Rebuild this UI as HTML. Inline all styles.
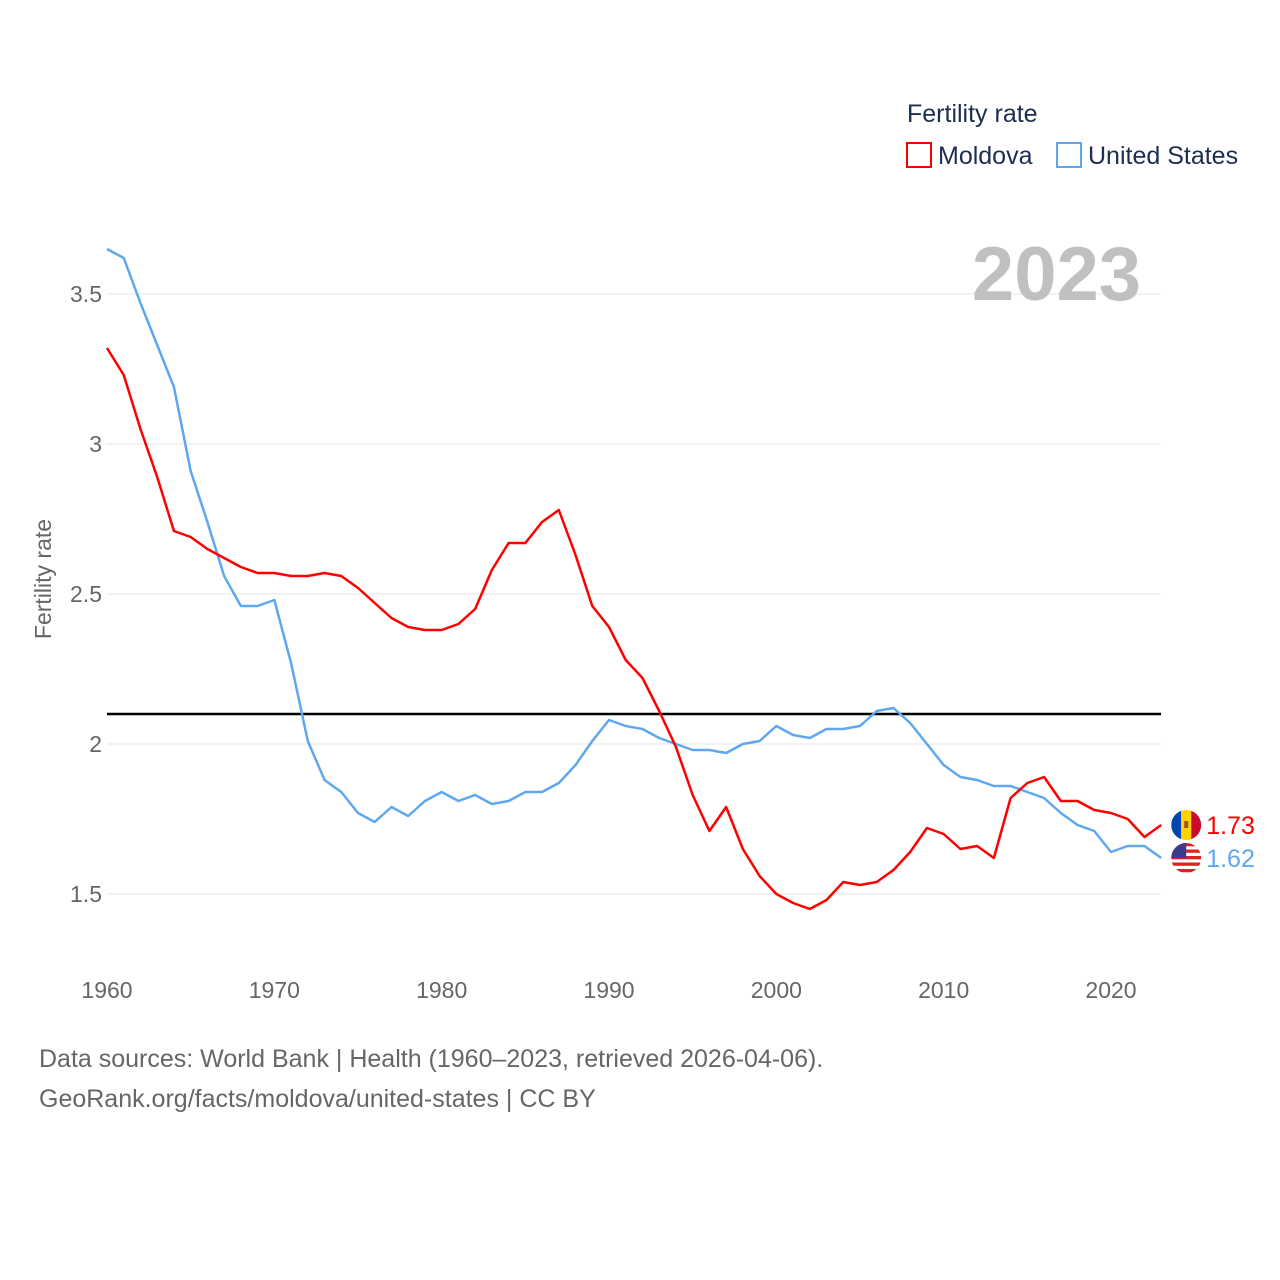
<!DOCTYPE html>
<html><head><meta charset="utf-8">
<style>
body{margin:0;background:#fff;font-family:"Liberation Sans",sans-serif;}
#wrap{position:relative;width:1280px;height:1280px;}
.lg{position:absolute;font-size:25px;color:#1d2d4f;}
.src{position:absolute;left:39px;font-size:25px;color:#666;}
</style></head>
<body>
<div id="wrap">
<div class="lg" style="left:907px;top:100px">Fertility rate</div>
<div class="lg" style="left:906px;top:142px"><span style="display:inline-block;width:22px;height:22px;border:2px solid #f00;vertical-align:-4px;margin-right:6px"></span>Moldova</div>
<div class="lg" style="left:1056px;top:142px"><span style="display:inline-block;width:22px;height:22px;border:2px solid #5ea8f0;vertical-align:-4px;margin-right:6px"></span>United States</div>
<svg id="chart" width="1280" height="1280" style="position:absolute;left:0;top:0"></svg>
<div class="src" style="top:1045px">Data sources: World Bank | Health (1960–2023, retrieved 2026-04-06).</div>
<div class="src" style="top:1085px">GeoRank.org/facts/moldova/united-states | CC BY</div>
</div>
<script>
const years=[];for(let y=1960;y<=2023;y++)years.push(y);
const moldova=[3.32,3.23,3.05,2.89,2.71,2.69,2.65,2.62,2.59,2.57,2.57,2.56,2.56,2.57,2.56,2.52,2.47,2.42,2.39,2.38,2.38,2.40,2.45,2.58,2.67,2.67,2.74,2.78,2.63,2.46,2.39,2.28,2.22,2.11,1.99,1.83,1.71,1.79,1.65,1.56,1.50,1.47,1.45,1.48,1.54,1.53,1.54,1.58,1.64,1.72,1.70,1.65,1.66,1.62,1.82,1.87,1.89,1.81,1.81,1.78,1.77,1.75,1.69,1.73];
const usa=[3.65,3.62,3.47,3.33,3.19,2.91,2.74,2.56,2.46,2.46,2.48,2.27,2.01,1.88,1.84,1.77,1.74,1.79,1.76,1.81,1.84,1.81,1.83,1.80,1.81,1.84,1.84,1.87,1.93,2.01,2.08,2.06,2.05,2.02,2.00,1.98,1.98,1.97,2.00,2.01,2.06,2.03,2.02,2.05,2.05,2.06,2.11,2.12,2.07,2.00,1.93,1.89,1.88,1.86,1.86,1.84,1.82,1.77,1.73,1.71,1.64,1.66,1.66,1.62];
const yTicks=[1.5,2,2.5,3,3.5];
const xTicks=[1960,1970,1980,1990,2000,2010,2020];
const refLine=2.1;
const NS="http://www.w3.org/2000/svg";
const svg=document.getElementById('chart');
const X=y=>107+(y-1960)*(1111-107)/60;
const Y=v=>894-(v-1.5)*300;
function el(t,a,txt,parent){const e=document.createElementNS(NS,t);for(const k in a)e.setAttribute(k,a[k]);if(txt!=null)e.textContent=txt;(parent||svg).appendChild(e);return e;}
yTicks.forEach(v=>{
 const g=el('line',{x1:107,x2:1161,y1:Y(v),y2:Y(v),stroke:'#e6e6e6','stroke-width':1});
 
 
 const t=el('text',{x:102,y:Y(v)+8,'text-anchor':'end','font-size':23,fill:'#666','font-family':'Liberation Sans, sans-serif'},String(v));
 
 
});
xTicks.forEach(v=>{
 const t=el('text',{x:X(v),y:998,'text-anchor':'middle','font-size':23,fill:'#666','font-family':'Liberation Sans, sans-serif'},String(v));
 
 
});
const yt=el('text',{transform:'translate(51,579) rotate(-90)','text-anchor':'middle','font-size':23,fill:'#666','font-family':'Liberation Sans, sans-serif'},'Fertility rate');


const yr=el('text',{x:1141,y:300,'text-anchor':'end','font-size':76,'font-weight':'bold',fill:'#c0c0c0','font-family':'Liberation Sans, sans-serif'},'2023');


const rl=el('line',{x1:107,x2:1161,y1:Y(refLine),y2:Y(refLine),stroke:'#000','stroke-width':2.5});


function series(data,color,name){
 const p=el('polyline',{points:data.map((v,i)=>X(years[i])+','+Y(v)).join(' '),fill:'none',stroke:color,'stroke-width':2.5,'stroke-linejoin':'round'});
 
 
}
series(usa,'#5ea8f0','us-line');
series(moldova,'#ff0000','moldova-line');
const defs=el('defs',{});
function endLabel(data,color,name,flag){
 const v=data[data.length-1],x=X(2023)+25,y=Y(v);
 const cp=el('clipPath',{id:'clip-'+name},null,defs);
 el('circle',{cx:x,cy:y,r:15},null,cp);
 const g=el('g',{'clip-path':'url(#clip-'+name+')'});
 
 
 if(flag==='md'){
  el('rect',{x:x-15,y:y-15,width:10,height:30,fill:'#0046ae'},null,g);
  el('rect',{x:x-5,y:y-15,width:10,height:30,fill:'#ffd200'},null,g);
  el('rect',{x:x+5,y:y-15,width:10,height:30,fill:'#cc092f'},null,g);
  el('rect',{x:x-2,y:y-4,width:4,height:7,fill:'#a0522d'},null,g);
 }else{
  el('rect',{x:x-15,y:y-15,width:30,height:30,fill:'#fff'},null,g);
  for(let i=0;i<5;i++)el('rect',{x:x-15,y:y-15+i*6.5,width:30,height:3.3,fill:'#d22'},null,g);
  el('rect',{x:x-15,y:y-15,width:15,height:15,fill:'#3c3b8e'},null,g);
 }
 const t=el('text',{x:x+20,y:y+9,'font-size':25,fill:color,'font-family':'Liberation Sans, sans-serif'},v.toFixed(2));
 
 
}
endLabel(moldova,'#ff0000','moldova','md');
endLabel(usa,'#5ea8f0','us','us');
</script>
</body></html>
